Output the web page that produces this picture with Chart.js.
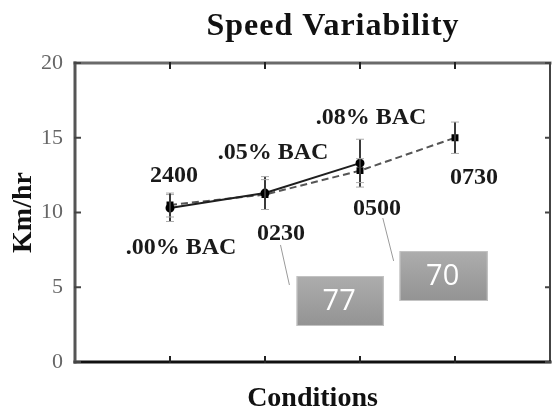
<!DOCTYPE html>
<html>
<head>
<meta charset="utf-8">
<script src="https://cdn.jsdelivr.net/npm/chart.js@4/dist/chart.umd.min.js"></script>
<style>
  body { margin: 0; background: #fff; }
  #wrap { width: 556px; height: 413px; }
</style>
</head>
<body>
<div id="wrap"><canvas id="chart" width="556" height="413"></canvas></div>
<script>
// data
const conditions = [1, 2, 3, 4];
const bacLabels = [".00% BAC", ".05% BAC", ".08% BAC"];
const bacSpeed = [10.3, 11.3, 13.3];
const bacError = [0.9, 1.1, 1.6];
const timeLabels = ["2400", "0230", "0500", "0730"];
const timeSpeed = [10.5, 11.2, 12.8, 15.0];
const timeError = [0.8, 1.0, 0.8, 1.05];
const yTicks = [0, 5, 10, 15, 20];
const calloutText = ["77", "70"];

const serif = "'Liberation Serif', 'Times New Roman', serif";

function pts(ys) {
  return ys.map(function (y, i) { return { x: conditions[i], y: y }; });
}

// frame + little inward tick marks like the original plot
const framePlugin = {
  id: "frame",
  afterDatasetsDraw: function (chart) {
    var a = chart.chartArea, ctx = chart.ctx;
    var xs = chart.scales.x, ys = chart.scales.y;
    ctx.save();
    ctx.lineCap = "square";
    function seg(x1, y1, x2, y2, c, w) {
      ctx.strokeStyle = c; ctx.lineWidth = w;
      ctx.beginPath(); ctx.moveTo(x1, y1); ctx.lineTo(x2, y2); ctx.stroke();
    }
    seg(a.left, a.top, a.right, a.top, "#6a6a6a", 3);
    seg(a.right, a.top, a.right, a.bottom, "#444", 2);
    seg(a.left, a.bottom, a.right, a.bottom, "#111", 3);
    seg(a.left, a.top, a.left, a.bottom, "#555", 3);
    yTicks.forEach(function (v) {
      var py = ys.getPixelForValue(v);
      seg(a.left, py, a.left + 5, py, "#444", 2);
      seg(a.right - 4, py, a.right, py, "#444", 2);
    });
    conditions.forEach(function (v) {
      var px = xs.getPixelForValue(v);
      seg(px, a.top, px, a.top + 5, "#222", 2);
      seg(px, a.bottom - 5, px, a.bottom, "#222", 2);
    });
    ctx.restore();
  }
};

const errorBarPlugin = {
  id: "errorBars",
  afterDatasetsDraw: function (chart) {
    var ctx = chart.ctx, xs = chart.scales.x, ys = chart.scales.y;
    ctx.save();
    chart.data.datasets.forEach(function (ds) {
      if (!ds.errors) return;
      ds.data.forEach(function (p, i) {
        var x = xs.getPixelForValue(p.x);
        var top = ys.getPixelForValue(p.y + ds.errors[i]);
        var bot = ys.getPixelForValue(p.y - ds.errors[i]);
        ctx.strokeStyle = "#3a3a3a"; ctx.lineWidth = 2;
        ctx.beginPath(); ctx.moveTo(x, top); ctx.lineTo(x, bot); ctx.stroke();
        ctx.strokeStyle = "#aaa"; ctx.lineWidth = 1;
        ctx.beginPath();
        ctx.moveTo(x - 4, top); ctx.lineTo(x + 4, top);
        ctx.moveTo(x - 4, bot); ctx.lineTo(x + 4, bot);
        ctx.stroke();
      });
    });
    ctx.restore();
  }
};

// point labels, offsets in px from the point
const pointLabelPlugin = {
  id: "pointLabels",
  afterDatasetsDraw: function (chart, args, opts) {
    var ctx = chart.ctx, xs = chart.scales.x, ys = chart.scales.y;
    ctx.save();
    ctx.font = "bold 24px " + serif;
    ctx.fillStyle = "#1a1a1a";
    ctx.textAlign = "center";
    ctx.textBaseline = "middle";
    chart.data.datasets.forEach(function (ds, d) {
      var offs = opts.offsets[d];
      ds.data.forEach(function (p, i) {
        var x = xs.getPixelForValue(p.x) + offs[i][0];
        var y = ys.getPixelForValue(p.y) + offs[i][1];
        ctx.fillText(ds.pointText[i], x, y);
      });
    });
    ctx.restore();
  }
};

// grey boxes pasted over the figure, placed in data units
const calloutPlugin = {
  id: "callouts",
  afterDraw: function (chart, args, opts) {
    var ctx = chart.ctx, xs = chart.scales.x, ys = chart.scales.y;
    ctx.save();
    opts.boxes.forEach(function (b, i) {
      var l = xs.getPixelForValue(b.x0), r = xs.getPixelForValue(b.x1);
      var t = ys.getPixelForValue(b.y0), btm = ys.getPixelForValue(b.y1);
      ctx.strokeStyle = "#9a9a9a"; ctx.lineWidth = 1;
      ctx.beginPath();
      ctx.moveTo(xs.getPixelForValue(b.lx0), ys.getPixelForValue(b.ly0));
      ctx.lineTo(xs.getPixelForValue(b.lx1), ys.getPixelForValue(b.ly1));
      ctx.stroke();
      var g = ctx.createLinearGradient(0, t, 0, btm);
      g.addColorStop(0, "#adadad");
      g.addColorStop(1, "#939393");
      ctx.fillStyle = g;
      ctx.fillRect(l, t, r - l, btm - t);
      ctx.strokeStyle = "#c4c4c4";
      ctx.strokeRect(l + 0.5, t + 0.5, r - l - 1, btm - t - 1);
      ctx.fillStyle = "#fff";
      ctx.font = "29px 'Open Sans', sans-serif";
      ctx.textAlign = "center";
      ctx.textBaseline = "middle";
      ctx.fillText(calloutText[i], (l + r) / 2 - 1, (t + btm) / 2 + 1);
    });
    ctx.restore();
  }
};

const titlePlugin = {
  id: "bigTitle",
  afterDraw: function (chart) {
    var ctx = chart.ctx;
    ctx.save();
    ctx.font = "bold 32px " + serif;
    ctx.letterSpacing = "1px";
    ctx.fillStyle = "#111";
    ctx.textAlign = "center";
    ctx.textBaseline = "alphabetic";
    ctx.fillText("Speed Variability", 333, 35);
    ctx.restore();
  }
};

new Chart(document.getElementById("chart"), {
  type: "line",
  data: {
    datasets: [
      {
        label: "BAC",
        data: pts(bacSpeed),
        errors: bacError,
        pointText: bacLabels,
        borderColor: "#1e1e1e",
        borderWidth: 2,
        pointStyle: "circle",
        pointRadius: 3.5,
        pointBackgroundColor: "#000",
        pointBorderColor: "#000",
        tension: 0
      },
      {
        label: "Time",
        data: pts(timeSpeed),
        errors: timeError,
        pointText: timeLabels,
        borderColor: "#555",
        borderWidth: 2,
        borderDash: [7, 4],
        pointStyle: "rect",
        pointRadius: 3.5,
        pointBackgroundColor: "#000",
        pointBorderColor: "#000",
        tension: 0
      }
    ]
  },
  options: {
    responsive: false,
    animation: false,
    devicePixelRatio: 1,
    layout: { padding: { top: 63, right: 1, left: 0, bottom: 0 } },
    plugins: {
      legend: { display: false },
      tooltip: { enabled: false },
      pointLabels: {
        offsets: [
          [[11, 40], [8, -40], [11, -45]],
          [[4, -29], [16, 39], [17, 38], [19, 40]]
        ]
      },
      callouts: {
        boxes: [
          { x0: 2.333, x1: 3.25, y0: 5.75, y1: 2.41, lx0: 2.163, ly0: 7.83, lx1: 2.257, ly1: 5.15 },
          { x0: 3.417, x1: 4.344, y0: 7.42, y1: 4.08, lx0: 3.24, ly0: 9.63, lx1: 3.354, ly1: 6.76 }
        ]
      }
    },
    scales: {
      x: {
        type: "linear",
        min: 0,
        max: 5,
        grid: { display: false },
        border: { display: false },
        ticks: { display: false },
        title: {
          display: true,
          text: "Conditions",
          color: "#111",
          font: { family: serif, size: 28, weight: "bold", lineHeight: 1 },
          padding: { top: 0, bottom: 0 }
        },
        afterFit: function (scale) { scale.height = 51; }
      },
      y: {
        min: 0,
        max: 20,
        grid: { display: false, drawTicks: false },
        border: { display: false },
        ticks: {
          stepSize: 5,
          padding: 12,
          color: "#666",
          font: { family: serif, size: 22 }
        },
        title: {
          display: true,
          text: "Km/hr",
          color: "#111",
          font: { family: serif, size: 28, weight: "bold", lineHeight: 1 },
          padding: { top: 10, bottom: 0 }
        },
        afterFit: function (scale) { scale.width = 75; }
      }
    }
  },
  plugins: [framePlugin, errorBarPlugin, pointLabelPlugin, calloutPlugin, titlePlugin]
});
</script>
</body>
</html>
